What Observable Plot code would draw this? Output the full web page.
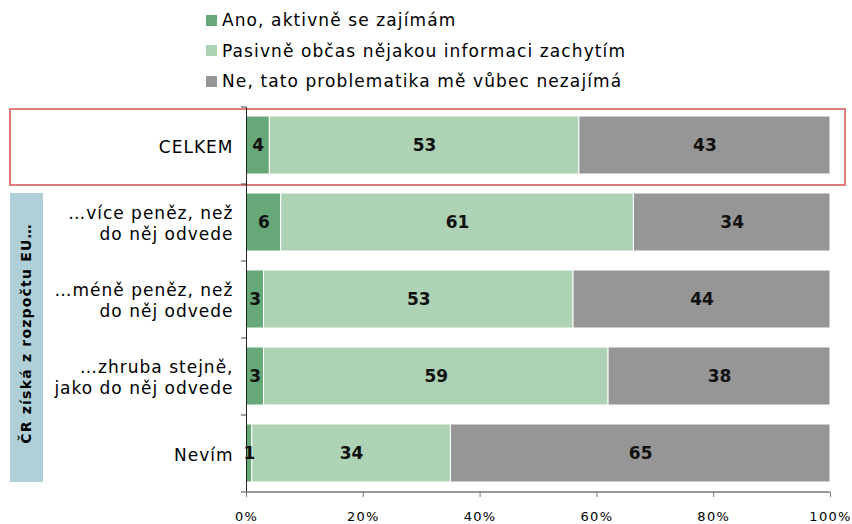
<!DOCTYPE html>
<html>
<head>
<meta charset="utf-8">
<script src="https://cdn.jsdelivr.net/npm/d3@7"></script>
<script src="https://cdn.jsdelivr.net/npm/@observablehq/plot@0.6"></script>
<style>
  body { margin: 0; background: #fff; font-family: "DejaVu Sans", sans-serif; }
  #wrap { position: relative; width: 852px; height: 524px; }
  #legend { position: absolute; left: 206px; top: 5px; font-size: 17px; letter-spacing: 1.1px; color: #000; }
  .li { height: 30.5px; line-height: 30px; display: flex; align-items: center; white-space: nowrap; }
  .sw { width: 11px; height: 11px; margin-right: 5px; display: inline-block; }
  #chart { position: absolute; left: 0; top: 100px; }
</style>
</head>
<body>
<div id="wrap">
  <div id="legend"></div>
  <div id="chart"></div>
</div>
<script>
const categories = [
  "CELKEM",
  "…více peněz, než\ndo něj odvede",
  "…méně peněz, než\ndo něj odvede",
  "…zhruba stejně,\njako do něj odvede",
  "Nevím"
];
const seriesNames = [
  "Ano, aktivně se zajímám",
  "Pasivně občas nějakou informaci zachytím",
  "Ne, tato problematika mě vůbec nezajímá"
];
const seriesColors = ["#67a878", "#aed2b4", "#969696"];
const activeValues  = [4, 6, 3, 3, 1];
const passiveValues = [53, 61, 53, 59, 34];
const notValues     = [43, 34, 44, 38, 65];
const xTicks = [0, 0.2, 0.4, 0.6, 0.8, 1];
const groupLabel = "ČR získá z rozpočtu EU…";

const allValues = [activeValues, passiveValues, notValues];
const data = [];
categories.forEach((c, i) => {
  seriesNames.forEach((s, j) => data.push({cat: c, series: s, value: allValues[j][i]}));
});

// legend
const legend = document.getElementById("legend");
seriesNames.forEach((s, j) => {
  const row = document.createElement("div");
  row.className = "li";
  row.innerHTML = `<span class="sw" style="background:${seriesColors[j]}"></span><span>${s}</span>`;
  legend.appendChild(row);
});

const W = 852, H = 424, ML = 246, MR = 22, MT = 7, MB = 32;

const decor = (index, scales, values, dimensions) => {
  const g = d3.create("svg:g");
  const bw = scales.y.bandwidth();
  const y0 = scales.y(categories[0]);
  // red box around CELKEM
  g.append("rect")
    .attr("x", 10).attr("y", y0 + 2)
    .attr("width", dimensions.width - 17).attr("height", bw - 1)
    .attr("fill", "none").attr("stroke", "#e07b7b").attr("stroke-width", 2);
  // blue group band
  const yA = scales.y(categories[1]) + 9;
  const yB = scales.y(categories[categories.length - 1]) + bw - 10;
  g.append("rect")
    .attr("x", 10).attr("y", yA).attr("width", 33).attr("height", yB - yA)
    .attr("fill", "#afd0d8");
  g.append("text")
    .attr("transform", `translate(27,${(yA + yB) / 2 - 4}) rotate(-90)`)
    .attr("text-anchor", "middle").attr("dominant-baseline", "middle")
    .attr("font-size", 14).attr("font-weight", "bold").attr("fill", "#000")
    .attr("letter-spacing", "1.2px")
    .text(groupLabel);
  // band boundary ticks on y axis
  const bounds = categories.map(c => scales.y(c)).concat([scales.y(categories[categories.length - 1]) + bw]);
  bounds.forEach(b => {
    g.append("line")
      .attr("x1", dimensions.marginLeft - 5).attr("x2", dimensions.marginLeft)
      .attr("y1", b).attr("y2", b)
      .attr("stroke", "#444").attr("stroke-width", 1);
  });
  return g.node();
};

const chart = Plot.plot({
  width: W, height: H,
  marginLeft: ML, marginRight: MR, marginTop: MT, marginBottom: MB,
  style: {fontFamily: "DejaVu Sans, sans-serif", fontSize: "14px", color: "#000", background: "transparent"},
  x: {domain: [0, 1], ticks: xTicks, tickFormat: d3.format(".0%"), label: null},
  y: {domain: categories, padding: 0, label: null},
  color: {domain: seriesNames, range: seriesColors},
  marks: [
    decor,
    Plot.barX(data, Plot.stackX({
      x: "value", y: "cat", fill: "series", offset: "normalize",
      insetTop: 9, insetBottom: 10, stroke: "white", strokeWidth: 1
    })),
    Plot.text(data, Plot.stackX({
      x: "value", y: "cat", z: "series", text: d => String(d.value), offset: "normalize",
      fontWeight: "bold", fontSize: 17, fill: "#111", dy: 0
    })),
    Plot.axisX({ticks: xTicks, tickFormat: d3.format(".0%"), tickSize: 5, tickPadding: 14, fontSize: 13, stroke: "#777", color: "#000"}),
    Plot.ruleX([0], {stroke: "#222"}),
    Plot.axisY({tickSize: 0, tickPadding: 13, fontSize: 17, lineHeight: 1.24})
  ]
});
document.getElementById("chart").appendChild(chart);

chart.querySelectorAll('[aria-label="y-axis tick label"] text').forEach(t => t.setAttribute("letter-spacing", "1px"));
chart.querySelectorAll('[aria-label="x-axis tick label"] text').forEach(t => t.setAttribute("letter-spacing", "1.3px"));

// x axis baseline
const svg = d3.select(chart);
svg.append("line")
  .attr("x1", ML).attr("x2", W - MR)
  .attr("y1", H - MB).attr("y2", H - MB)
  .attr("stroke", "#777").attr("stroke-width", 1.5);
</script>
</body>
</html>
